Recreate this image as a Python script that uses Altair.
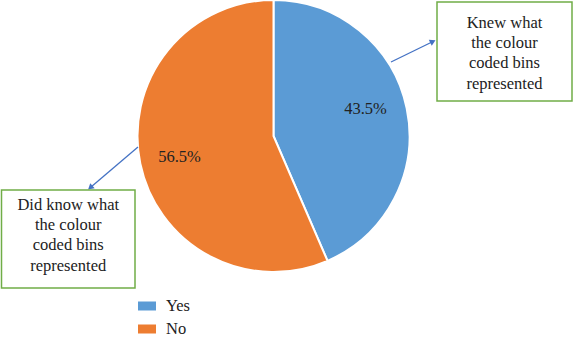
import altair as alt
import pandas as pd

# Data
categories = ["Yes", "No"]
percents = [43.5, 56.5]
colors = ["#5B9BD5", "#ED7D31"]
box_right_text = ["Knew what", "the colour", "coded bins", "represented"]
box_left_text = ["Did know what", "the colour", "coded bins", "represented"]

FONT = "Liberation Serif"
CX, CY, R = 273.5, 136, 136

pie_df = pd.DataFrame({"category": categories, "value": percents, "order": list(range(len(categories)))})

color_scale = alt.Scale(domain=categories, range=colors)

base = alt.Chart(pie_df).encode(
    theta=alt.Theta("value:Q", stack=True),
    order=alt.Order("order:Q"),
)

pie = base.mark_arc(radius=R, stroke="white", strokeWidth=2).encode(
    x=alt.value(CX),
    y=alt.value(CY),
    color=alt.Color(
        "category:N",
        scale=color_scale,
        sort=categories,
        legend=alt.Legend(
            title=None,
            orient="none",
            legendX=138,
            legendY=297,
            symbolType="M-1,-0.5H1V0.5H-1Z",
            symbolSize=324,
            symbolStrokeWidth=0,
            symbolOpacity=1,
            labelFont=FONT,
            labelFontSize=16.5,
            labelColor="#222222",
            labelOffset=10,
            rowPadding=5,
        ),
    ),
)

label_base = base.transform_calculate(
    label="format(datum.value, '.1f') + '%'"
)


def pct_label(cat, dx, dy):
    return label_base.mark_text(
        radius=96, font=FONT, fontSize=16.5, color="#222222", dx=dx, dy=dy
    ).encode(
        x=alt.value(CX),
        y=alt.value(CY),
        text="label:N",
        opacity=alt.condition(alt.datum.category == cat, alt.value(1), alt.value(0)),
    )


def box(lines, x, x2, y, y2, first_line_y):
    df = pd.DataFrame({"t": ["\n".join(lines)]})
    rect = alt.Chart(df).mark_rect(fill="white", stroke="#70AD47", strokeWidth=1.5).encode(
        x=alt.value(x), x2=alt.value(x2), y=alt.value(y), y2=alt.value(y2)
    )
    txt = alt.Chart(df).mark_text(
        font=FONT, fontSize=16.5, color="#222222", lineBreak="\n", lineHeight=20.2,
        align="center", baseline="middle",
    ).encode(x=alt.value((x + x2) / 2), y=alt.value(first_line_y), text="t:N")
    return rect + txt


def arrow(x1, y1, x2, y2, angle):
    df = pd.DataFrame({"a": [0]})
    line = alt.Chart(df).mark_rule(color="#4472C4", strokeWidth=1.3).encode(
        x=alt.value(x1), y=alt.value(y1), x2=alt.value(x2), y2=alt.value(y2)
    )
    head = alt.Chart(df).mark_point(
        shape="triangle", filled=True, color="#4472C4", size=45, angle=angle, opacity=1
    ).encode(x=alt.value(x2), y=alt.value(y2))
    return line + head


chart = alt.layer(
    pie,
    pct_label("Yes", -2, -8),
    pct_label("No", 0, 2),
    arrow(391, 62, 432, 42, 64),
    arrow(138, 147, 91, 187, 229),
    box(box_right_text, 437, 572, 2, 101, 23),
    box(box_left_text, 1.5, 135, 190, 288, 205),
).properties(
    width=574, height=338, autosize=alt.AutoSizeParams(type="none"), padding=0
).configure_view(stroke=None)

chart.save("out.html", embed_options={"renderer": "svg", "actions": False})
